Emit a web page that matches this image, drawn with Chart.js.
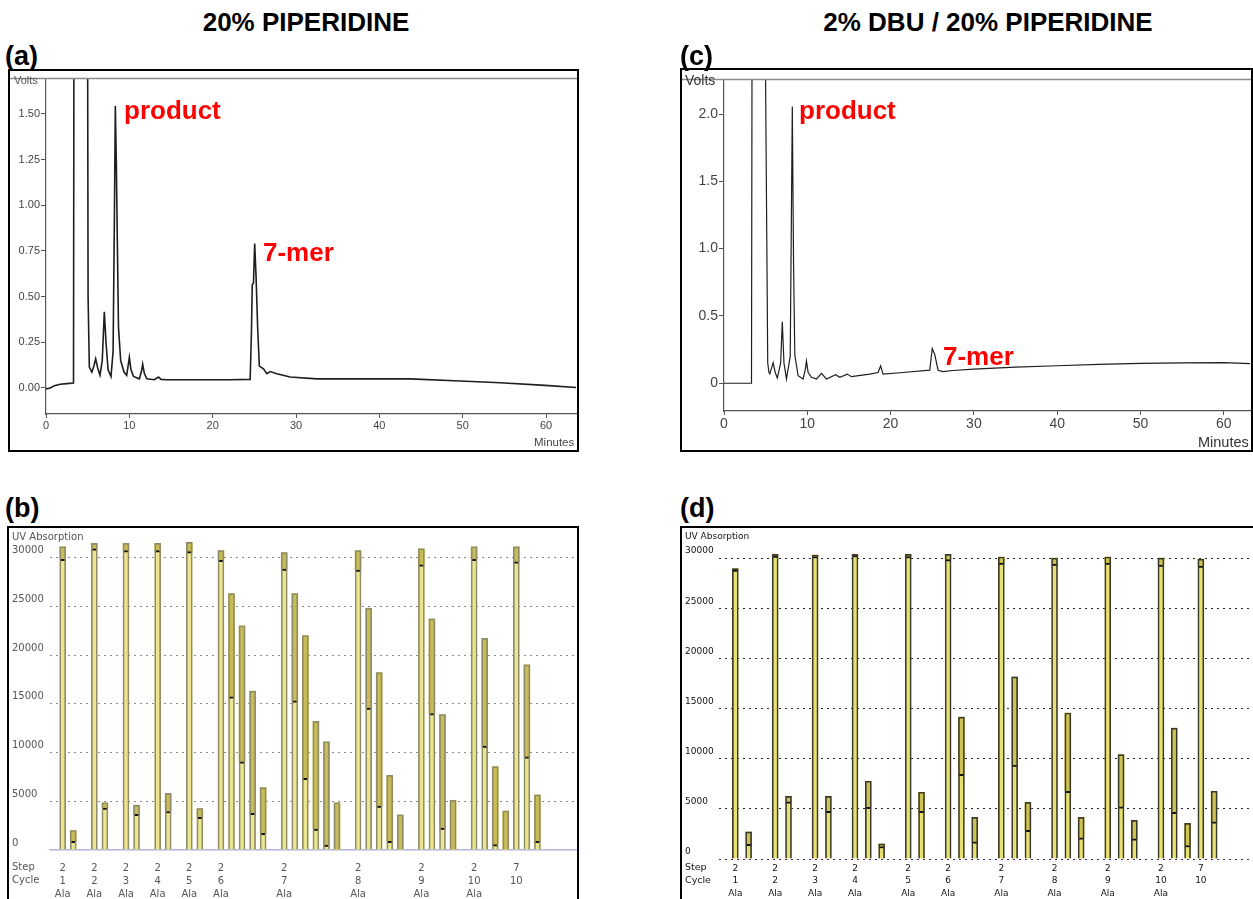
<!DOCTYPE html>
<html><head><meta charset="utf-8">
<script src="https://cdn.jsdelivr.net/npm/chart.js@4"></script>
<style>
body{margin:0;width:1253px;height:899px;overflow:hidden;background:#fff;position:relative;font-family:"Liberation Sans",Arial,sans-serif;}
.t{position:absolute;white-space:nowrap;line-height:1;}
.box{position:absolute;border:2px solid #000;box-sizing:border-box;background:#fff;}
.wrap{position:absolute;}
.ttl{font-weight:bold;font-size:26px;color:#000;}
.pl{font-weight:bold;font-size:27px;color:#000;}
.red{font-weight:bold;font-size:26px;color:#ff0000;}
.dj{font-family:"DejaVu Sans",sans-serif;}
</style>
</head><body>
<div class="box" style="left:8px;top:69px;width:571px;height:383px;"></div>
<div class="box" style="left:680px;top:68px;width:573px;height:384px;"></div>
<div class="box" style="left:7px;top:526px;width:572px;height:400px;"></div>
<div class="box" style="left:680px;top:526px;width:600px;height:400px;"></div>

<div class="wrap" style="left:10px;top:71px;"><canvas id="ca" width="567" height="379"></canvas></div>
<div class="wrap" style="left:682px;top:70px;"><canvas id="cc" width="569" height="380"></canvas></div>
<div class="wrap" style="left:9px;top:528px;"><canvas id="cb" width="568" height="371"></canvas></div>
<div class="wrap" style="left:682px;top:528px;"><canvas id="cd" width="571" height="371"></canvas></div>

<div class="t ttl" style="left:306px;top:9px;transform:translateX(-50%);">20% PIPERIDINE</div>
<div class="t ttl" style="left:988px;top:9px;transform:translateX(-50%);">2% DBU / 20% PIPERIDINE</div>
<div class="t pl" style="left:5px;top:43px;">(a)</div>
<div class="t pl" style="left:680px;top:43px;">(c)</div>
<div class="t pl" style="left:5px;top:495px;">(b)</div>
<div class="t pl" style="left:680px;top:495px;">(d)</div>

<div class="t red" style="left:124px;top:97px;">product</div>
<div class="t red" style="left:263px;top:239px;">7-mer</div>
<div class="t red" style="left:799px;top:97px;">product</div>
<div class="t red" style="left:943px;top:343px;">7-mer</div>

<div class="t" style="left:14px;top:75px;font-size:11px;color:#555;">Volts</div>
<div class="t" style="left:534px;top:437px;font-size:11.5px;color:#444;">Minutes</div>
<div class="t" style="left:685px;top:73px;font-size:14px;color:#333;">Volts</div>
<div class="t" style="left:1198px;top:435px;font-size:14.5px;color:#333;">Minutes</div>

<div class="t dj" style="left:12px;top:532px;font-size:10px;color:#555;">UV Absorption</div>
<div class="t dj" style="left:12px;top:862px;font-size:10px;color:#555;">Step</div>
<div class="t dj" style="left:12px;top:875px;font-size:10px;color:#555;">Cycle</div>
<div class="t dj" style="left:685px;top:532px;font-size:9px;color:#111;">UV Absorption</div>
<div class="t dj" style="left:685px;top:862px;font-size:9.5px;color:#111;">Step</div>
<div class="t dj" style="left:685px;top:875px;font-size:9.5px;color:#111;">Cycle</div>

<script>
// ---------- (a) 20% piperidine chromatogram ----------
const aTime  = [0,0.5,1.0,1.7,2.5,3.3,3.38,4.95,5.05,5.2,5.5,5.75,5.96,6.2,6.48,6.75,7.0,7.2,7.45,7.8,8.05,8.2,8.32,8.45,8.56,8.7,8.96,9.36,9.68,9.85,10.0,10.2,10.5,11.2,11.45,11.6,11.8,12.1,13.0,13.5,13.8,14.5,18,22,24.5,24.65,24.75,24.9,25.04,25.2,25.4,25.6,26.1,26.5,26.9,27.7,29.3,32.5,38,43.7,49.7,54.5,59.9,63.7];
const aVolts = [-0.005,0.0,0.012,0.02,0.024,0.027,3.0,3.0,0.5,0.114,0.087,0.12,0.16,0.11,0.07,0.15,0.417,0.25,0.1,0.063,0.2,0.9,1.543,1.2,0.8,0.33,0.15,0.087,0.069,0.12,0.168,0.1,0.063,0.05,0.09,0.13,0.08,0.05,0.045,0.06,0.047,0.045,0.045,0.045,0.047,0.3,0.565,0.574,0.79,0.62,0.33,0.12,0.105,0.078,0.09,0.078,0.06,0.05,0.05,0.05,0.038,0.029,0.014,0.002];
// ---------- (c) 2% DBU / 20% piperidine chromatogram ----------
const cTime  = [0,3.3,3.38,4.9,5.25,5.4,5.5,5.9,6.15,6.4,6.8,7.0,7.2,7.5,7.95,8.1,8.2,8.35,8.5,8.9,9.5,9.75,9.9,10.1,10.5,11.1,11.7,12.3,13.4,13.9,14.8,15.3,17.5,18.5,18.8,19.1,21.5,24.7,25.0,25.3,25.7,26.3,27.5,30,35,40,45,50,55,60,63.3];
const cVolts = [0,0.0,3.0,3.0,0.15,0.08,0.07,0.153,0.08,0.039,0.15,0.457,0.15,0.032,0.2,1.3,2.055,0.89,0.21,0.056,0.032,0.1,0.165,0.08,0.044,0.032,0.073,0.032,0.063,0.044,0.068,0.049,0.068,0.08,0.129,0.068,0.08,0.097,0.258,0.214,0.097,0.087,0.095,0.105,0.12,0.13,0.14,0.148,0.152,0.153,0.146];
const minuteTicks = [0,10,20,30,40,50,60];
const aVoltTicks = [0,0.25,0.5,0.75,1.0,1.25,1.5];
const cVoltTicks = [0,0.5,1.0,1.5,2.0];

// ---------- (b) UV monitoring, 20% piperidine ----------
const bSlot = [0,1,3,4,6,7,9,10,12,13,15,16,17,18,19,21,22,23,24,25,26,28,29,30,31,32,34,35,36,37,39,40,41,42,43,44,45];
const bTop  = [31100,2000,31450,4850,31450,4600,31450,5800,31550,4250,30700,26300,23000,16300,6400,30500,26300,22000,13200,11100,4850,30700,24800,18200,7650,3600,30900,23700,13900,5100,31100,21700,8550,4000,31100,19000,5650];
const bMark = [29800,900,30900,4300,30700,3650,30700,3950,30600,3350,29700,15700,9050,3750,1700,28800,15300,7350,2150,500,0,28700,14550,4500,900,0,29250,14000,2250,0,29800,10650,550,0,29550,9550,900];
const bLabelSlot = [0,3,6,9,12,15,21,28,34,39,43];
const bStep  = ['2','2','2','2','2','2','2','2','2','2','7'];
const bCycle = ['1','2','3','4','5','6','7','8','9','10','10'];
const bAA    = ['Ala','Ala','Ala','Ala','Ala','Ala','Ala','Ala','Ala','Ala',''];

// ---------- (d) UV monitoring, 2% DBU / 20% piperidine ----------
const dSlot = [0,1,3,4,6,7,9,10,11,13,14,16,17,18,20,21,22,24,25,26,28,29,30,32,33,34,35,36];
const dTop  = [28950,2700,30370,6250,30300,6250,30370,7750,1500,30370,6650,30370,14150,4150,30100,18150,5650,30000,14550,4150,30100,10400,3850,30000,13050,3550,29900,6750];
const dMark = [28800,1450,30200,5700,30150,4750,30250,5150,1250,30150,4750,29850,8450,1700,29500,9350,2850,29400,6750,2100,29500,5200,2000,29300,4650,1350,29200,3700];
const dLabelSlot = [0,3,6,9,13,16,20,24,28,32,35];
const dStep  = ['2','2','2','2','2','2','2','2','2','2','7'];
const dCycle = ['1','2','3','4','5','6','7','8','9','10','10'];
const dAA    = ['Ala','Ala','Ala','Ala','Ala','Ala','Ala','Ala','Ala','Ala',''];

const uvTicks = [0,5000,10000,15000,20000,25000,30000];

const topLine = {
  id:'topLine',
  afterDraw(chart){
    const c = chart.ctx, a = chart.chartArea;
    c.save(); c.strokeStyle = '#8a8a8a'; c.lineWidth = 1.5;
    c.beginPath(); c.moveTo(0, a.top); c.lineTo(chart.width, a.top); c.stroke(); c.restore();
  }
};

function chromChart(id, times, volts, o){
  return new Chart(document.getElementById(id), {
    type:'line',
    data:{datasets:[{data: times.map((t,i)=>({x:t, y:volts[i]})), borderColor:'#1e1e1e', borderWidth:o.lw, pointRadius:0, tension:0, fill:false}]},
    options:{
      responsive:false, animation:false, events:[],
      plugins:{legend:{display:false}, tooltip:{enabled:false}},
      layout:{padding:{top:o.padTop, right:1, left:0, bottom:0}},
      scales:{
        x:{type:'linear', min:0, max:o.xMax,
           afterBuildTicks:s=>{ s.ticks = minuteTicks.map(v=>({value:v})); },
           afterFit:s=>{ s.height = o.xH; },
           ticks:{font:{size:o.fs, family:'"Liberation Sans", Arial'}, color:'#444', padding:1, maxRotation:0, autoSkip:false, callback:v=>String(v)},
           grid:{drawOnChartArea:false, tickLength:4, color:'#555'},
           border:{display:true, color:'#555', width:1.2}},
        y:{type:'linear', min:o.yMin, max:o.yMax,
           afterBuildTicks:s=>{ s.ticks = o.yTicks.map(v=>({value:v})); },
           afterFit:s=>{ s.width = o.yW; },
           ticks:{font:{size:o.fs, family:'"Liberation Sans", Arial'}, color:'#444', padding:1, autoSkip:false, callback:o.fmt},
           grid:{drawOnChartArea:false, tickLength:5, color:'#555'},
           border:{display:true, color:'#555', width:1.2}}
      }
    },
    plugins:[topLine]
  });
}

chromChart('ca', aTime, aVolts, {lw:1.6, padTop:4, xMax:63.6, xH:36, yMin:-0.1424, yMax:1.693, yW:36, fs:11, yTicks:aVoltTicks, fmt:v=>v.toFixed(2)});
chromChart('cc', cTime, cVolts, {lw:1.2, padTop:3, xMax:63.15, xH:39, yMin:-0.206, yMax:2.257, yW:42, fs:14, yTicks:cVoltTicks, fmt:v=>(v===0?'0':v.toFixed(1))});

function uvChart(id, slots, marks, tops, labelSlots, steps, cycles, aas, o){
  const outline = slots.map((s,i)=>({x:s, y:[0, tops[i]]}));
  const lower   = slots.map((s,i)=>({x:s, y:[0, marks[i]]}));
  const upper   = slots.map((s,i)=>({x:s, y:[marks[i], tops[i]]}));
  return new Chart(document.getElementById(id), {
    type:'bar',
    data:{datasets:[
      {data:outline, backgroundColor:'rgba(0,0,0,0)', borderColor:o.edge, borderWidth:{left:1,right:1,top:1,bottom:0}, borderSkipped:'start', barThickness:o.bw, grouped:false},
      {data:lower, backgroundColor:o.light, borderColor:'#111', borderWidth:{left:0,right:0,top:2,bottom:0}, borderSkipped:'start', barThickness:o.bw, grouped:false},
      {data:upper, backgroundColor:o.dark, borderWidth:0, barThickness:o.bw, grouped:false}
    ]},
    options:{
      responsive:false, animation:false, events:[],
      plugins:{legend:{display:false}, tooltip:{enabled:false}},
      layout:{padding:{top:o.padTop, right:0, left:3, bottom:0}},
      scales:{
        x:{type:'linear', min:o.xMin, max:o.xMax, offset:false,
           afterBuildTicks:s=>{ s.ticks = labelSlots.map(v=>({value:v})); },
           afterFit:s=>{ s.height = o.xH; },
           ticks:{font:{size:o.fs, family:'"DejaVu Sans"', lineHeight:o.lh}, color:o.tc, padding:o.tpad, maxRotation:0, minRotation:0, autoSkip:false,
                  callback:(v,i)=>[steps[i], cycles[i], aas[i]]},
           grid:{display:false, drawTicks:false},
           border:{display:o.baseBorder, color:'#b4b4dc', width:1.5}},
        y:{type:'linear', min:0, max:o.yMax,
           afterBuildTicks:s=>{ s.ticks = uvTicks.map(v=>({value:v})); },
           afterFit:s=>{ s.width = o.yW; },
           ticks:{font:{size:o.fs, family:'"DejaVu Sans"'}, color:o.tc, padding:0, crossAlign:'far', labelOffset:-7, autoSkip:false, callback:v=>String(v)},
           grid:{drawTicks:false, lineWidth:1, color:c=>(c.tick && c.tick.value===0 ? o.zeroColor : o.gridColor)},
           border:{display:false, dash:[2,4]}}
      }
    }
  });
}

uvChart('cb', bSlot, bMark, bTop, bLabelSlot, bStep, bCycle, bAA,
  {bw:6, edge:'#8e8c66', light:'#ece58f', dark:'#c9bb57', padTop:10, xMin:-1.204, xMax:48.75, xH:49, fs:10, lh:1.3, tc:'#555', tpad:12, baseBorder:true, yMax:32000, yW:38, zeroColor:'rgba(0,0,0,0)', gridColor:'#8a8a8a'});
uvChart('cd', dSlot, dMark, dTop, dLabelSlot, dStep, dCycle, dAA,
  {bw:6, edge:'#3a3a2a', light:'#e9e072', dark:'#cfc254', padTop:15, xMin:-1.226, xMax:38.92, xH:40, fs:9, lh:1.4, tc:'#111', tpad:3, baseBorder:false, yMax:31500, yW:34, zeroColor:'#2a2a7a', gridColor:'#222'});
</script>
</body></html>
